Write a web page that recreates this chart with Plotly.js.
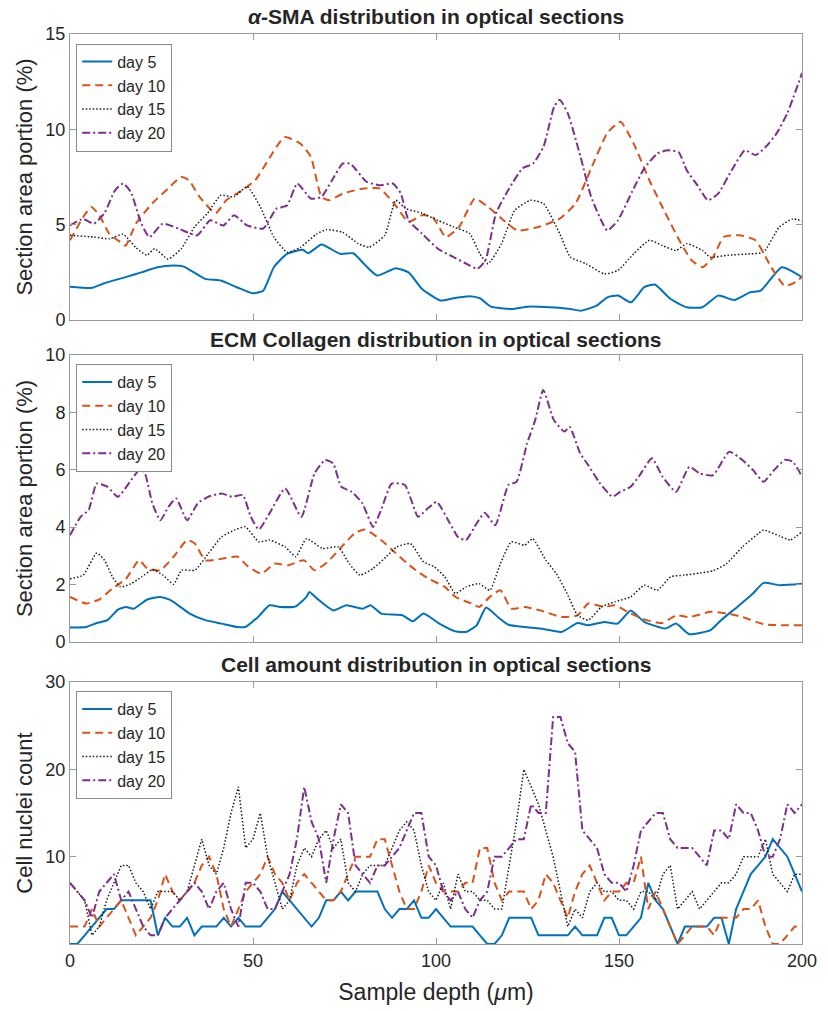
<!DOCTYPE html>
<html>
<head>
<meta charset="utf-8">
<script src="https://cdn.plot.ly/plotly-3.0.1.min.js"></script>
<style>html,body{margin:0;padding:0;background:#fff;}#chart{width:828px;height:1011px;}</style>
</head>
<body>
<div id="chart"></div>
<script>
// ---------- Data: alpha-SMA (top panel) ----------
const seriesNames = ['day 5', 'day 10', 'day 15', 'day 20'];

const smaDepth5 = [0,5.8,9.4,15.2,19.5,23.9,28.2,31.1,36.9,41.2,45.6,49.9,52.8,55.7,59.3,63.6,65.1,68.7,73.8,77.4,80.3,83.9,89,92.5,96.2,101.2,104.8,109.2,112,115,120.7,125,130.9,136.7,139.5,143.9,146.8,149.7,153.3,156.9,159.8,164.1,168.5,172.8,177.1,181.5,185.8,188.7,194.5,200];
const smaDay5 = [1.75,1.68,1.93,2.25,2.5,2.77,2.86,2.8,2.16,2.07,1.72,1.4,1.54,2.77,3.47,3.68,3.5,3.96,3.47,3.5,2.95,2.33,2.72,2.5,1.63,1.02,1.14,1.25,1.14,0.7,0.58,0.7,0.67,0.58,0.49,0.75,1.19,1.28,0.93,1.72,1.86,1.1,0.67,0.67,1.28,1.05,1.45,1.54,2.77,2.25];

const smaDepth10 = [0,3.6,5.8,8,10.8,13.7,15.2,18,22.4,26.8,30.4,32.5,35.4,39.8,42.7,47,50.6,54.2,58.6,62.9,65.8,68.7,70.9,74.5,80.3,84.6,89,92.5,96.2,99.1,102.7,106.3,110.6,114.2,117.9,122.2,128,133.8,138.1,142.4,146.8,150.4,154,158.3,162.7,167,169.9,172.8,175.7,178.6,182.9,187.3,191.6,195.2,197.4,200];
const smaDay10 = [4.18,5.4,5.93,5.5,4.5,4.1,3.9,5.05,6.1,6.9,7.5,7.33,6.46,5.6,6.28,6.8,7.33,8.4,9.6,9.26,8.56,6.46,6.28,6.63,6.9,6.9,6.0,5.14,5.5,5.4,4.35,4.88,6.37,5.93,5.32,4.7,4.88,5.32,6.1,7.95,9.8,10.4,9.26,7.33,5.6,4.0,3.12,2.77,3.3,4.35,4.44,4.18,2.77,1.8,1.9,2.25];

const smaDepth15 = [0,6.5,10.8,14.5,18,21,23.1,26.8,30.4,34,37.6,41.2,44.8,48.4,52,55.7,59.3,62.9,67.3,70.1,74.5,78.8,81.7,86,89,91.8,96.2,100.5,104.8,109.2,112,114.2,117.9,121.5,125.8,129.4,133.8,136.7,141,146,149.7,154,158.3,161.9,165.6,168.5,172.8,174.9,180,185.8,189.5,193.8,197.4,200];
const smaDay15 = [4.44,4.35,4.26,4.5,3.8,3.4,3.74,3.2,3.74,4.88,5.6,6.54,6.46,7.0,5.93,4.35,3.56,3.8,4.5,4.74,4.6,4.0,3.82,4.44,6.28,5.84,5.6,5.23,4.88,4.53,3.47,2.95,4.0,5.75,6.28,6.1,4.53,3.3,2.95,2.42,2.6,3.47,4.18,3.9,3.65,4.0,3.65,3.3,3.4,3.47,3.56,4.88,5.3,5.2];

const smaDepth20 = [0,3.6,6.5,9.4,12.3,14.5,16.6,19.5,21.7,25.3,29.6,34.7,38.3,41.9,44.8,48.4,52.8,56.4,59.3,62.1,65.8,68.7,71.6,74.5,76.6,81,84.6,88.2,90.4,92.5,96.2,100.5,104.8,109.2,111.3,113.5,116.4,120,123.6,126.5,129.4,132.3,133.8,136,139.5,142.4,146.8,149.7,154,156.9,160.5,163.4,166.3,168.5,171.4,174.3,177.1,180.8,184.4,187.3,190.2,193.1,196,200];
const smaDay20 = [4.96,5.3,5.05,5.6,6.8,7.16,6.72,5.05,4.35,5.05,4.8,4.44,5.23,4.96,5.5,4.96,4.8,5.84,6.0,7.16,6.37,6.46,7.33,8.2,8.2,7.25,7.07,7.16,6.63,5.23,4.53,3.74,3.3,2.86,2.68,3.12,5.6,6.9,7.95,8.2,9.1,11.2,11.55,10.85,8.56,6.46,4.7,5.23,6.9,7.95,8.74,8.9,8.8,7.86,7.07,6.28,6.63,7.86,8.9,8.65,9.1,9.8,10.85,12.95];

// ---------- Data: ECM collagen (middle panel) ----------
const ecmDepth5 = [0,4.4,7.3,10.2,13.1,15.3,17.4,21.1,24.7,27.6,32.7,37,41.4,45.8,47.9,51.6,54.5,57.4,61.7,64.6,65.4,67.5,71.9,75.5,79.9,82.1,85,90.8,93.7,96.6,100.9,105.3,108.2,111.1,113.7,116.9,119.8,124.2,128.5,134.3,138.7,141.6,146,149.6,153.2,156.9,162.7,165.6,169.2,175,177.9,182.3,186.6,189.5,193.9,200];
const ecmDay5 = [0.5,0.52,0.66,0.76,1.13,1.22,1.16,1.48,1.57,1.45,0.99,0.76,0.64,0.52,0.52,0.9,1.28,1.22,1.24,1.57,1.74,1.51,1.1,1.28,1.16,1.28,0.99,0.93,0.72,0.99,0.64,0.37,0.35,0.58,1.2,0.87,0.6,0.52,0.47,0.35,0.66,0.58,0.7,0.64,1.1,0.7,0.47,0.64,0.27,0.41,0.76,1.22,1.69,2.06,1.98,2.03];

const ecmDepth10 = [0,4.4,8,11.6,15.3,18.9,21.1,24.7,28.3,32,34.1,37,41.4,45.8,48.7,52.3,55.9,59.5,63.9,66.8,70.4,74.1,77.7,80.6,85,88.6,92.2,95.1,98,102.4,105.3,109.7,111.8,114.7,117.6,120.6,124.2,128.5,134.3,138.7,141.6,146,148.9,153.2,157.6,161.9,165.6,169.2,175,179.4,183.7,189.5,195.3,200];
const ecmDay10 = [1.57,1.34,1.48,1.86,2.2,2.85,2.56,2.5,2.97,3.55,3.43,2.85,2.9,2.97,2.62,2.38,2.73,2.67,2.85,2.5,2.79,3.3,3.78,3.92,3.55,3.14,2.73,2.44,2.2,1.92,1.57,1.34,1.22,1.57,1.8,1.16,1.22,1.1,0.87,0.93,1.34,1.22,1.28,0.99,0.76,0.66,0.93,0.87,1.05,0.99,0.87,0.62,0.58,0.58];

const ecmDepth15 = [0,3.6,7.3,9.4,11.6,13.8,16.7,19.6,22.5,25.4,28.3,30.5,34.1,37.8,41.4,45,47.9,51.6,54.5,58.8,61.7,64.6,69,73.3,76.3,79.2,82.8,86.4,89.3,93,96.6,99.5,102.4,105.3,108.2,111.8,114.7,117.6,120.6,124.2,126.4,130,132.9,135.8,138.7,141.6,145.2,148.9,153.2,156.9,160.5,164.1,167.8,172.1,175.7,179.4,183.7,188.1,189.5,193.9,196.8,200];
const ecmDay15 = [2.2,2.33,3.1,2.85,2.27,1.92,2.03,2.27,2.52,2.33,2.01,2.5,2.5,3.08,3.66,3.9,4.01,3.49,3.55,3.31,2.97,3.6,3.26,3.31,2.73,2.33,2.56,2.97,3.31,3.43,2.79,2.62,2.27,1.69,1.92,2.03,1.8,2.73,3.49,3.37,3.6,2.85,2.38,1.69,0.93,0.76,1.22,1.4,1.57,1.98,1.8,2.27,2.33,2.4,2.48,2.73,3.31,3.78,3.9,3.69,3.55,3.84];

const ecmDepth20 = [0,2.9,5.1,7.3,10.2,13.1,16.7,18.9,20.3,22.5,24.7,26.9,29,32,34.9,37.8,41.4,44.3,47.2,49.4,51.6,54.5,58.8,63.2,66.8,69.7,71.9,74.1,77,79.9,82.8,85,87.9,91.5,95.1,97.3,100.2,103.8,106,108.2,111.1,113.3,116.2,119.8,122,124.9,127.1,129.3,132.2,135.1,136.5,139.4,141.6,144.5,148.2,150.3,153.2,155.4,159,161.9,165.6,169.2,172.1,175.7,180.1,183.7,186.6,189.5,192.4,195.3,197.5,200];
const ecmDay20 = [3.72,4.36,4.6,5.52,5.41,5.06,5.64,5.99,5.93,4.83,4.24,4.71,5.0,4.24,4.83,5.06,5.17,5.06,5.12,4.36,3.92,4.48,5.35,4.36,5.87,6.34,6.22,5.41,5.23,4.83,4.01,4.6,5.52,5.47,4.36,4.6,4.88,4.13,3.66,3.55,4.13,4.5,4.07,5.47,5.58,6.92,7.73,8.78,7.73,7.33,7.5,6.57,6.16,5.58,5.06,5.23,5.41,5.76,6.4,5.76,5.23,6.1,5.87,5.81,6.63,6.34,5.99,5.58,5.99,6.34,6.28,5.76];

// ---------- Data: cell nuclei count (bottom panel) ----------
const cellDepth = [0,2,4,6,8,10,12,14,16,18,20,22,24,26,28,30,32,34,36,38,40,42,44,46,48,50,52,54,56,58,60,62,64,66,68,70,72,74,76,78,80,82,84,86,88,90,92,94,96,98,100,102,104,106,108,110,112,114,116,118,120,122,124,126,128,130,132,134,136,138,140,142,144,146,148,150,152,154,156,158,160,162,164,166,168,170,172,174,176,178,180,182,184,186,188,190,192,194,196,198,200];
const cellDay5 = [0,0,1,2,3,4,4,5,5,5, 5,5,1,3,2,2,3,1,2,2, 2,3,2,3,2,2,2,3,4,6, 5,4,3,2,3,5,5,6,5,6, 6,6,6,4,3,4,4,5,3,3, 4,3,2,2,2,2,1,0,0,1, 3,3,3,3,1,1,1,1,1,2, 1,1,1,3,3,1,1,2,3,7, 5,4,2,0,2,2,2,2,3,3, 0,4,6,8,9,10,12,11,10,8, 6];
const cellDay10 = [2,2,2,4,2,3,4,5,3,1, 2,3,5,8,6,5,6,7,9,10, 8,4,2,4,6,7,8,10,8,7, 5,7,8,7,6,5,5,6,8,10, 10,10,12,12,9,6,4,4,6,9, 7,6,6,6,7,7,11,11,7,5, 6,6,6,4,5,8,7,5,3,6, 8,9,7,5,6,6,7,7,10,4, 6,4,2,0,1,2,2,2,1,3, 3,3,4,4,5,2,0,0,1,2, 2];
const cellDay15 = [7,6,5,1,2,5,7,9,9,7, 6,4,6,6,6,5,6,9,12,9, 8,11,15,18,11,12,15,10,7,4, 5,9,11,10,12,13,11,12,7,6, 8,9,9,9,11,13,14,13,9,6, 5,7,4,8,6,6,5,5,4,4, 9,14,20,18,16,13,10,6,2,4, 3,6,7,6,6,5,5,4,6,6, 5,8,9,4,5,6,4,5,6,7, 7,8,10,10,10,12,8,7,6,8, 8];
const cellDay20 = [7,6,5,3,6,7,8,5,6,4, 2,1,1,3,4,5,6,7,6,4, 6,7,4,2,7,7,6,4,4,6, 8,12,18,14,12,7,12,16,15,9, 8,7,9,9,10,11,13,15,15,10, 9,6,5,6,4,3,5,6,10,10, 11,12,12,16,15,15,26,26,23,22, 13,12,11,8,7,7,6,9,13,14, 15,15,12,11,11,11,10,9,13,13, 12,16,15,15,13,10,10,12,16,15, 16];

const xTicks = [0, 50, 100, 150, 200];
const panelTitles = ['<i>α</i>-SMA distribution in optical sections', 'ECM Collagen distribution in optical sections', 'Cell amount distribution in optical sections'];

// ---------- Styles ----------
const lineStyles = [
  {color: '#0072BD', width: 2, dash: 'solid'},
  {color: '#D95319', width: 2, dash: '8px,5px'},
  {color: '#1a1a1a', width: 1.5, dash: '1.5px,2px'},
  {color: '#7E2F8E', width: 2, dash: '8px,3px,2px,3px'}
];

const traces = [];
function addPanel(depths, values, xa, ya, legendId, smooth) {
  for (let i = 0; i < 4; i++) {
    const ln = Object.assign({}, lineStyles[i]);
    if (smooth) { ln.shape = 'spline'; ln.smoothing = 0.5; }
    traces.push({
      x: depths[i], y: values[i], type: 'scatter', mode: 'lines',
      name: seriesNames[i], line: ln, xaxis: xa, yaxis: ya, legend: legendId,
      hoverinfo: 'skip'
    });
  }
}
addPanel([smaDepth5, smaDepth10, smaDepth15, smaDepth20], [smaDay5, smaDay10, smaDay15, smaDay20], 'x', 'y', 'legend', true);
addPanel([ecmDepth5, ecmDepth10, ecmDepth15, ecmDepth20], [ecmDay5, ecmDay10, ecmDay15, ecmDay20], 'x2', 'y2', 'legend2', true);
addPanel([cellDepth, cellDepth, cellDepth, cellDepth], [cellDay5, cellDay10, cellDay15, cellDay20], 'x3', 'y3', 'legend3', false);

const axisColor = '#9a9a9a';
const textColor = '#262626';
function axisBase() {
  return {
    showline: true, linecolor: axisColor, linewidth: 1, mirror: 'ticks',
    ticks: 'inside', ticklen: 6, tickcolor: axisColor, tickwidth: 1,
    showgrid: false, zeroline: false,
    tickfont: {size: 18, color: textColor}
  };
}
function xAxis(anchor, showLabels) {
  return Object.assign(axisBase(), {anchor: anchor, range: [0, 200], tickvals: xTicks, showticklabels: showLabels});
}
function yAxis(anchor, domain, range, ticks, title) {
  return Object.assign(axisBase(), {anchor: anchor, domain: domain, range: range, tickvals: ticks,
    title: {text: title, font: {size: 22, color: textColor}, standoff: 6}});
}
function legendBox(y) {
  return {x: 0.0085, y: y, xanchor: 'left', yanchor: 'top', bgcolor: '#ffffff',
    bordercolor: '#8a8a8a', borderwidth: 1, font: {size: 16, color: textColor},
    tracegroupgap: 0, itemwidth: 30};
}

const layout = {
  width: 828, height: 1011,
  margin: {l: 70, r: 26, t: 34, b: 67},
  paper_bgcolor: '#ffffff', plot_bgcolor: '#ffffff',
  font: {family: '"Liberation Sans", Arial, Helvetica, sans-serif', color: textColor, size: 18},
  showlegend: true,
  xaxis: xAxis('y', false),
  yaxis: yAxis('x', [0.6857, 1], [0, 15], [0, 5, 10, 15], 'Section area portion (%)'),
  xaxis2: xAxis('y2', false),
  yaxis2: yAxis('x2', [0.3319, 0.6473], [0, 10], [0, 2, 4, 6, 8, 10], 'Section area portion (%)'),
  xaxis3: Object.assign(xAxis('y3', true), {title: {text: 'Sample depth (<i>μ</i>m)', font: {size: 23, color: textColor}, standoff: 14}}),
  yaxis3: yAxis('x3', [0, 0.2879], [0, 30], [10, 20, 30], 'Cell nuclei count'),
  legend: legendBox(0.9895),
  legend2: legendBox(0.6373),
  legend3: legendBox(0.2780),
  annotations: [
    {text: '<b>' + panelTitles[0] + '</b>', x: 0.5, y: 1.0187, xref: 'paper', yref: 'paper', xanchor: 'center', yanchor: 'middle', showarrow: false, font: {size: 21, color: textColor}},
    {text: '<b>' + panelTitles[1] + '</b>', x: 0.5, y: 0.6648, xref: 'paper', yref: 'paper', xanchor: 'center', yanchor: 'middle', showarrow: false, font: {size: 21, color: textColor}},
    {text: '<b>' + panelTitles[2] + '</b>', x: 0.5, y: 0.3066, xref: 'paper', yref: 'paper', xanchor: 'center', yanchor: 'middle', showarrow: false, font: {size: 21, color: textColor}}
  ]
};

Plotly.newPlot('chart', traces, layout, {staticPlot: true, displayModeBar: false});
</script>
</body>
</html>
